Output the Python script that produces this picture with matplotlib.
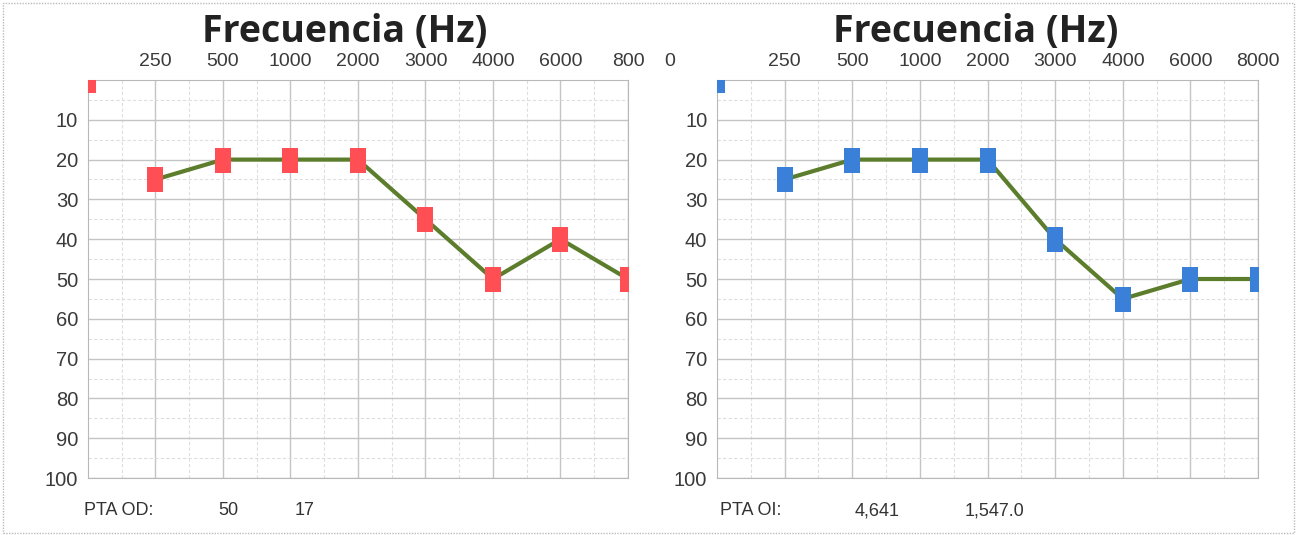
import matplotlib.pyplot as plt
from matplotlib.patches import Rectangle
from matplotlib.path import Path

# frequencies (Hz) and thresholds (dB)
freqs = ['0', '250', '500', '1000', '2000', '3000', '4000', '6000', '8000']
od_db = [0, 25, 20, 20, 20, 35, 50, 40, 50]
oi_db = [0, 25, 20, 20, 20, 40, 55, 50, 50]
y_ticks = [10, 20, 30, 40, 50, 60, 70, 80, 90, 100]

left_labels = ['250', '500', '1000', '2000', '3000', '4000', '6000', '800']
right_labels = ['250', '500', '1000', '2000', '3000', '4000', '6000', '8000']

line_col = '#5b7d2c'
grid_col = '#c4c4c4'

# tall rectangle marker
rect_marker = Path([(-0.33, -0.5), (0.33, -0.5), (0.33, 0.5), (-0.33, 0.5), (-0.33, -0.5)],
                   [Path.MOVETO, Path.LINETO, Path.LINETO, Path.LINETO, Path.CLOSEPOLY])

fig = plt.figure(figsize=(12.97, 5.35), dpi=100)
fig.patches.append(Rectangle((0.002, 0.004), 0.996, 0.99, transform=fig.transFigure,
                             fill=False, edgecolor='#bbbbbb', lw=1, ls=(0, (1, 1))))


def audiogram(rect, vals, mcol, xlabels):
    ax = fig.add_axes(rect)
    x = list(range(len(freqs)))
    # line skips the 0 Hz point
    ax.plot(x[1:], vals[1:], color=line_col, lw=3, zorder=3)
    ax.plot(x, vals, ls='none', marker=rect_marker, ms=18, color=mcol, zorder=4,
            markeredgewidth=0)
    ax.set_xlim(0, 8)
    ax.set_ylim(100, 0)
    ax.set_xticks(x[1:])
    ax.set_xticklabels(xlabels)
    ax.set_xticks([i + 0.5 for i in range(8)], minor=True)
    ax.set_yticks(y_ticks)
    ax.set_yticks([5 + 10 * i for i in range(10)], minor=True)
    ax.xaxis.tick_top()
    ax.tick_params(axis='x', which='both', length=0, labelsize=14,
                   labelcolor='#3a3a3a', pad=7)
    ax.tick_params(axis='y', which='both', length=0, labelsize=14.5,
                   labelcolor='#3a3a3a', pad=7)
    for lab in ax.get_xticklabels() + ax.get_yticklabels():
        lab.set_fontfamily('Liberation Sans')
    ax.grid(which='major', color=grid_col, lw=1)
    ax.grid(which='minor', color='#dedede', lw=0.8, ls=(0, (3, 2)))
    ax.set_axisbelow(True)
    for s in ax.spines.values():
        s.set_color('#b8b8b8')
    return ax


audiogram([0.0678, 0.1065, 0.4164, 0.744], od_db, '#ff4f55', left_labels)
audiogram([0.5528, 0.1065, 0.4172, 0.744], oi_db, '#3a80d8', right_labels)

for xc in (0.266, 0.752):
    fig.text(xc, 0.94, 'Frecuencia (Hz)', ha='center', va='center', fontsize=27,
             fontweight='bold', family='Open Sans', color='#222222')

fig.text(0.5165, 0.885, '0', ha='center', va='center', fontsize=14,
         family='Liberation Sans', color='#3a3a3a')

txt = dict(fontsize=13, family='Liberation Sans', color='#333333', va='center')
fig.text(0.065, 0.045, 'PTA OD:', **txt)
fig.text(0.168, 0.045, '50', **txt)
fig.text(0.227, 0.045, '17', **txt)
fig.text(0.555, 0.045, 'PTA OI:', **txt)
fig.text(0.659, 0.045, '4,641', **txt)
fig.text(0.744, 0.045, '1,547.0', **txt)

plt.savefig('out.png')
